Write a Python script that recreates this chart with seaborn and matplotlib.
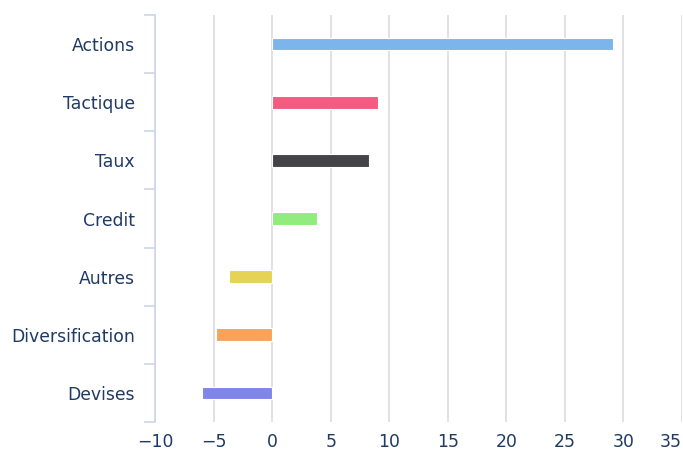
import matplotlib
matplotlib.use("Agg")
import matplotlib.pyplot as plt
import seaborn as sns
import pandas as pd
import numpy as np

# Données du graphique
categories = ["Actions", "Tactique", "Taux", "Credit", "Autres", "Diversification", "Devises"]
valeurs = [29.1, 9.0, 8.3, 3.85, -3.7, -4.8, -5.95]
couleurs = ["#7cb5ec", "#f15c80", "#434348", "#90ed7d", "#e4d354", "#f7a35c", "#8085e9"]
x_ticks = [-10, -5, 0, 5, 10, 15, 20, 25, 30, 35]

df = pd.DataFrame({"categorie": categories, "valeur": valeurs})

sns.set_style("white")
texte = "#1f3a64"

fig = plt.figure(figsize=(6.83, 4.54), dpi=100)
ax = fig.add_axes([155 / 683, 1 - 422 / 454, (682 - 155) / 683, (422 - 15) / 454])

# Barres horizontales
sns.barplot(data=df, y="categorie", x="valeur", hue="categorie", palette=couleurs,
            saturation=1, orient="h", width=0.22, legend=False, edgecolor="white",
            linewidth=0.8, ax=ax, zorder=3)

ax.set_xlim(-10, 35)
ax.set_ylim(len(categories) - 0.5, -0.5)
ax.set_xticks(x_ticks)
ax.set_xticklabels([str(t).replace("-", "\u2212") for t in x_ticks])
ax.get_xticklabels()[-1].set_horizontalalignment("right")
ax.xaxis.grid(True, color="#d8d8d8", linewidth=1.1, zorder=0)
ax.yaxis.grid(False)
ax.set_xlabel("")
ax.set_ylabel("")

for s in ["top", "right", "bottom"]:
    ax.spines[s].set_visible(False)
ax.spines["left"].set_color("#ccd6eb")
ax.spines["left"].set_linewidth(1.2)

# Graduations de l'axe Y aux limites des catégories
ax.set_yticks(np.arange(-0.5, len(categories), 1), minor=True)
ax.tick_params(axis="y", which="minor", length=8, color="#ccd6eb", width=1.2, left=True)
ax.tick_params(axis="y", which="major", length=0, pad=14.5, labelsize=12.4, labelcolor=texte)
ax.tick_params(axis="x", length=0, pad=8, labelsize=12.4, labelcolor=texte)

plt.savefig("out.png", dpi=100)
